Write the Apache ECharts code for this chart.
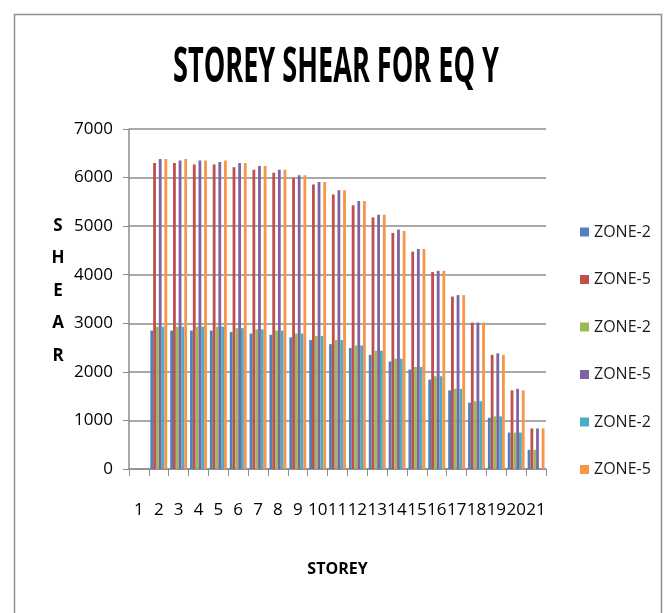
<!DOCTYPE html>
<html>
<head>
<meta charset="utf-8">
<title>STOREY SHEAR FOR EQ Y</title>
<script src="https://cdn.jsdelivr.net/npm/echarts@6/dist/echarts.min.js"></script>
<style>
  html, body { margin: 0; padding: 0; background: #fff; }
  #shear-chart { width: 665px; height: 613px; }
</style>
</head>
<body>
<div id="shear-chart"></div>
<script>
// storey numbers on the x axis
var storeys = ['1','2','3','4','5','6','7','8','9','10','11','12','13','14','15','16','17','18','19','20','21'];
var yTicks = [0, 1000, 2000, 3000, 4000, 5000, 6000, 7000];

// storey shear values (storey 1 has no bars)
var zone2a = ['-', 2850, 2850, 2850, 2850, 2820, 2790, 2765, 2710, 2655, 2570, 2490, 2350, 2215, 2050, 1840, 1620, 1365, 1055, 750, 395];
var zone5a = ['-', 6300, 6300, 6270, 6270, 6210, 6160, 6100, 5990, 5855, 5650, 5430, 5180, 4860, 4475, 4055, 3550, 3015, 2350, 1620, 835];
var zone2b = ['-', 2930, 2930, 2930, 2930, 2900, 2875, 2850, 2790, 2740, 2655, 2545, 2435, 2270, 2100, 1910, 1650, 1395, 1085, 750, 395];
var zone5b = ['-', 6380, 6350, 6350, 6320, 6300, 6240, 6160, 6050, 5910, 5740, 5520, 5235, 4930, 4530, 4080, 3580, 3015, 2380, 1650, 835];
var zone2c = ['-', 2930, 2930, 2930, 2930, 2900, 2875, 2850, 2790, 2740, 2655, 2545, 2435, 2270, 2100, 1910, 1650, 1395, 1085, 750, '-'];
var zone5c = ['-', 6380, 6380, 6350, 6350, 6300, 6240, 6160, 6050, 5910, 5740, 5520, 5235, 4900, 4530, 4080, 3580, 3015, 2350, 1620, 835];

// legend shows the same label three times, so keep the series ids unique
var seriesLabels = ['ZONE-2', 'ZONE-5', 'ZONE-2', 'ZONE-5', 'ZONE-2', 'ZONE-5'];
var seriesData = [zone2a, zone5a, zone2b, zone5b, zone2c, zone5c];
var seriesColors = ['#4F81BD', '#C0504D', '#9BBB59', '#8064A2', '#4BACC6', '#F79646'];

var font = "'Open Sans', sans-serif";
var gridGray = '#8c8c8c';

var chart = echarts.init(document.getElementById('shear-chart'));

var seriesNames = seriesLabels.map(function (label, i) {
  return label + '#' + i;
});

var series = seriesNames.map(function (name, i) {
  return {
    name: name,
    type: 'bar',
    data: seriesData[i],
    itemStyle: { color: seriesColors[i] },
    barGap: '0%',
    barCategoryGap: '15%'
  };
});

var option = {
  animation: false,
  color: seriesColors,
  textStyle: { fontFamily: font },
  graphic: [
    {
      // outer chart frame
      type: 'rect',
      shape: { x: 14.5, y: 14.5, width: 647, height: 620 },
      style: { fill: 'none', stroke: '#8f8f8f', lineWidth: 1.5 },
      silent: true
    },
    {
      type: 'text',
      x: 336,
      y: 68,
      scaleX: 0.565,
      style: {
        text: 'STOREY SHEAR FOR EQ Y',
        font: 'bold 48px ' + font,
        fill: '#000',
        align: 'center',
        verticalAlign: 'middle'
      }
    },
    {
      // y axis title, one letter per line
      type: 'text',
      x: 58,
      y: 291,
      style: {
        text: 'S\nH\nE\nA\nR',
        font: 'bold 17px ' + font,
        lineHeight: 32.5,
        fill: '#000',
        align: 'center',
        verticalAlign: 'middle'
      }
    }
  ],
  legend: {
    orient: 'vertical',
    left: 575,
    top: 217,
    itemWidth: 9,
    itemHeight: 9,
    itemGap: 27.5,
    icon: 'rect',
    formatter: function (name) {
      return name.split('#')[0];
    },
    textStyle: { fontSize: 16, lineHeight: 20, color: '#1a1a1a', fontFamily: font },
    data: seriesNames
  },
  grid: {
    left: 129,
    right: 119,
    top: 129,
    bottom: 144
  },
  xAxis: {
    type: 'category',
    data: storeys,
    name: 'STOREY',
    nameLocation: 'middle',
    nameGap: 92,
    nameTextStyle: { fontSize: 16, fontWeight: 'bold', color: '#000', fontFamily: font },
    axisLine: { lineStyle: { color: gridGray, width: 1.5 } },
    axisTick: { show: true, length: 7, lineStyle: { color: gridGray } },
    axisLabel: { fontSize: 17, color: '#000', margin: 33, interval: 0, fontFamily: font }
  },
  yAxis: {
    type: 'value',
    min: yTicks[0],
    max: yTicks[yTicks.length - 1],
    interval: 1000,
    axisLine: { show: true, lineStyle: { color: gridGray, width: 1.5 } },
    axisTick: { show: true, length: 6, lineStyle: { color: gridGray } },
    axisLabel: {
      fontSize: 17,
      color: '#000',
      margin: 16,
      fontFamily: font,
      formatter: function (v) { return String(v); }
    },
    splitLine: { lineStyle: { color: gridGray, width: 1.5 } }
  },
  series: series
};

chart.setOption(option);
</script>
</body>
</html>
